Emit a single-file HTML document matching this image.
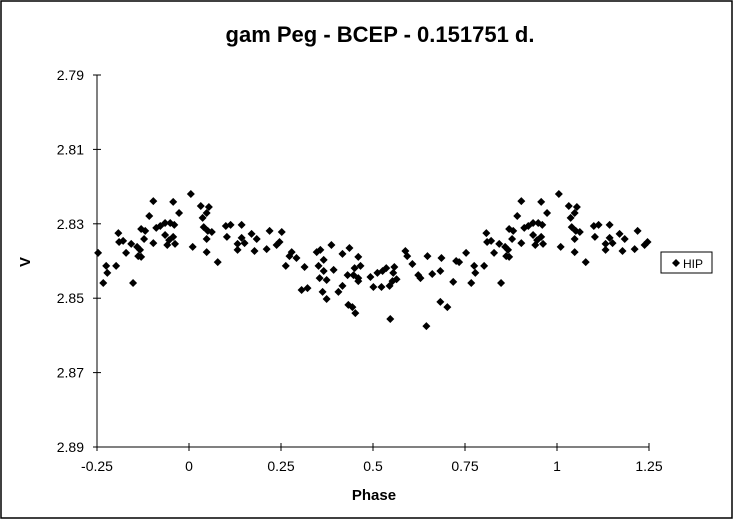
<!DOCTYPE html>
<html><head><meta charset="utf-8"><style>
html,body{margin:0;padding:0;background:#fff;}
svg{display:block;font-family:"Liberation Sans",Arial,sans-serif;}
</style></head><body>
<svg id="chart" width="733" height="520" viewBox="0 0 733 520">
<rect x="1" y="1" width="731" height="517" fill="#fff" stroke="#000" stroke-width="1.5"/>
<text x="380" y="42" text-anchor="middle" font-size="22" font-weight="bold">gam Peg - BCEP - 0.151751 d.</text>
<text x="374" y="500" text-anchor="middle" font-size="15" font-weight="bold">Phase</text>
<text x="30" y="262" text-anchor="middle" font-size="15" font-weight="bold" transform="rotate(-90 30 262)">V</text>
<g id="axes"></g>
<g id="marks"></g>
<g>
<rect x="661" y="252" width="51" height="21" fill="#fff" stroke="#000" stroke-width="1"/>
<path d="M676 259 L680 263 L676 267 L672 263 Z" fill="#000"/>
<text x="683" y="268" font-size="12">HIP</text>
</g>
</svg>
<script>
const xTicks=[-0.25,0,0.25,0.5,0.75,1,1.25];
const xTickLabels=["-0.25","0","0.25","0.5","0.75","1","1.25"];
const yTicks=[2.79,2.81,2.83,2.85,2.87,2.89];
const yTickLabels=["2.79","2.81","2.83","2.85","2.87","2.89"];
const phases=[0.005,0.032,0.054,0.048,0.037,0.040,0.051,0.062,0.010,0.048,0.048,0.078,0.100,0.113,0.143,0.103,0.170,0.184,0.143,0.132,0.151,0.132,0.178,0.211,0.219,0.252,0.238,0.246,0.279,0.273,0.292,0.263,0.314,0.347,0.357,0.387,0.366,0.352,0.366,0.393,0.355,0.374,0.306,0.322,0.363,0.374,0.417,0.436,0.460,0.466,0.450,0.431,0.447,0.460,0.460,0.417,0.406,0.433,0.444,0.452,
0.493,0.512,0.526,0.536,0.558,0.555,0.501,0.523,0.545,0.553,0.564,0.588,0.593,0.607,0.623,0.629,0.648,0.661,0.686,0.683,0.718,0.726,0.734,0.753,0.775,0.778,0.802,0.767,0.848,0.808,0.810,0.821,0.843,0.829,0.859,0.867,0.862,0.870,0.870,0.881,0.878,0.892,0.903,0.903,0.911,0.922,0.935,0.949,0.960,0.973,0.957,0.935,0.946,0.957,0.941,0.962,0.683,0.702,0.547,0.645];
const mags=[2.8220,2.8252,2.8255,2.8271,2.8284,2.8309,2.8319,2.8322,2.8362,2.8341,2.8376,2.8403,2.8306,2.8303,2.8303,2.8335,2.8327,2.8341,2.8338,2.8354,2.8352,2.8370,2.8373,2.8368,2.8319,2.8322,2.8357,2.8349,2.8376,2.8387,2.8392,2.8413,2.8416,2.8376,2.8370,2.8357,2.8397,2.8413,2.8427,2.8424,2.8446,2.8451,2.8478,2.8473,2.8483,2.8502,2.8381,2.8365,2.8389,2.8413,2.8419,2.8438,2.8438,2.8446,2.8454,2.8467,2.8483,2.8518,2.8524,2.8540,
2.8443,2.8432,2.8427,2.8419,2.8416,2.8432,2.8470,2.8470,2.8467,2.8454,2.8449,2.8373,2.8387,2.8408,2.8438,2.8446,2.8387,2.8435,2.8392,2.8427,2.8456,2.8400,2.8403,2.8378,2.8413,2.8432,2.8413,2.8459,2.8459,2.8325,2.8349,2.8346,2.8354,2.8378,2.8362,2.8370,2.8387,2.8389,2.8314,2.8319,2.8341,2.8279,2.8239,2.8352,2.8311,2.8306,2.8298,2.8298,2.8303,2.8271,2.8241,2.8330,2.8344,2.8335,2.8357,2.8354,2.8510,2.8524,2.8556,2.8575];
const X0=97,X1=649,Y0=75,Y1=447;
function xs(p){return X0+(p+0.25)/1.5*(X1-X0);}
function ys(m){return Y0+(m-2.79)/0.10*(Y1-Y0);}
const NS="http://www.w3.org/2000/svg";
const axes=document.getElementById('axes');
function el(t,a,parent){const e=document.createElementNS(NS,t);for(const k in a)e.setAttribute(k,a[k]);parent.appendChild(e);return e;}
const yl=el('line',{x1:X0,y1:Y0,x2:X0,y2:Y1,stroke:'#000','stroke-width':1},axes);


const xl=el('line',{x1:X0,y1:Y1,x2:X1,y2:Y1,stroke:'#000','stroke-width':1},axes);


yTicks.forEach((v,i)=>{const y=ys(v);
 el('line',{x1:X0-4,y1:y,x2:X0+4,y2:y,stroke:'#000'},axes);
 const t=el('text',{x:X0-13,y:y+5,'text-anchor':'end','font-size':14},axes);t.textContent=yTickLabels[i];
 
 
});
xTicks.forEach((v,i)=>{const x=xs(v);
 el('line',{x1:x,y1:Y1-4,x2:x,y2:Y1+4,stroke:'#000'},axes);
 const t=el('text',{x:x,y:Y1+24,'text-anchor':'middle','font-size':14},axes);t.textContent=xTickLabels[i];
 
 
});
const marks=document.getElementById('marks');
function pt(p,m){const x=xs(p),y=ys(m);
 const d=el('path',{d:`M${x} ${y-4}L${x+4} ${y}L${x} ${y+4}L${x-4} ${y}Z`,fill:'#000'},marks);
 
 
}
phases.forEach((p,i)=>{const m=mags[i];
 pt(p,m);
 if(p<=0.25)pt(p+1,m);
 if(p>=0.75)pt(p-1,m);
});
</script>
</body></html>
